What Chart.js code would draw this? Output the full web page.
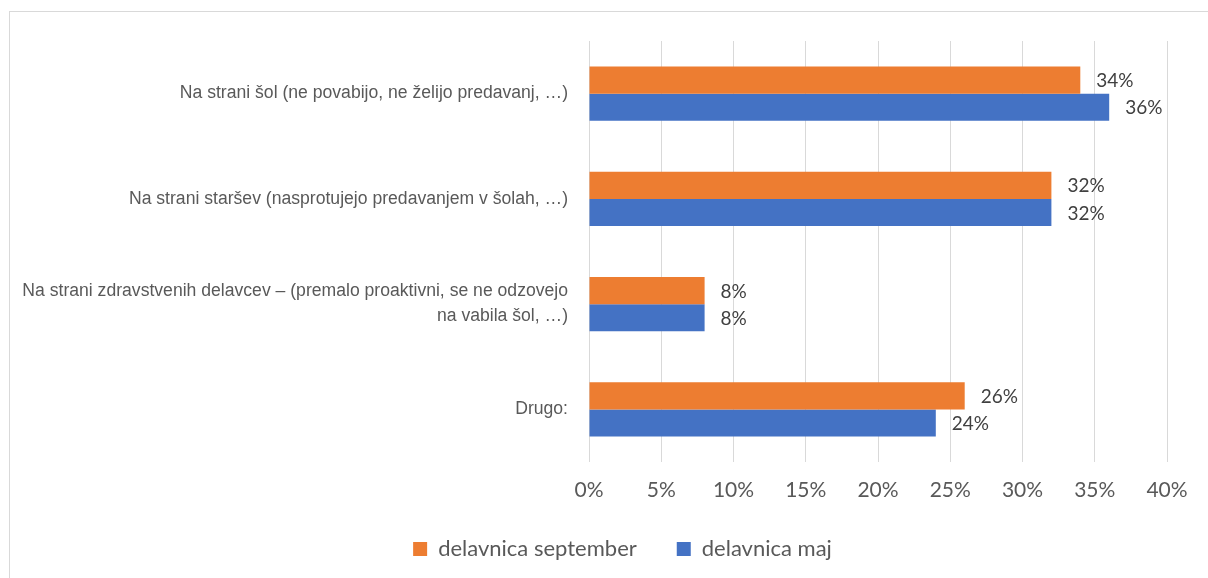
<!DOCTYPE html>
<html>
<head>
<meta charset="utf-8">
<script src="https://cdn.jsdelivr.net/npm/chart.js@4/dist/chart.umd.min.js"></script>
<style>
  html, body { margin: 0; padding: 0; background: #fff; overflow: hidden; }
  #wrap { position: relative; width: 1208px; height: 578px; }
  #frame { position: absolute; left: 9px; top: 11px; width: 1230px; height: 600px; border: 1px solid #d9d9d9; }
  #chart { position: absolute; left: 0; top: 0; }
</style>
</head>
<body>
<div id="wrap">
  <div id="frame"></div>
  <canvas id="chart" width="1208" height="578"></canvas>
</div>
<script>
// Kategorije in vrednosti (v %)
const categories = [
  'Na strani šol (ne povabijo, ne želijo predavanj, …)',
  'Na strani staršev (nasprotujejo predavanjem v šolah, …)',
  ['Na strani zdravstvenih delavcev – (premalo proaktivni, se ne odzovejo', 'na vabila šol, …)'],
  'Drugo:'
];
const september = [34, 32, 8, 26];
const maj = [36, 32, 8, 24];
const seriesNames = ['delavnica september', 'delavnica maj'];
const xTicks = [0, 5, 10, 15, 20, 25, 30, 35, 40];

const grey = '#595959';

// Oznake vrednosti desno od stolpcev
const valueLabels = {
  id: 'valueLabels',
  afterDatasetsDraw(chart) {
    const ctx = chart.ctx;
    ctx.save();
    ctx.font = '19px Lato';
    ctx.fillStyle = '#404040';
    ctx.textAlign = 'left';
    ctx.textBaseline = 'middle';
    chart.data.datasets.forEach((ds, i) => {
      chart.getDatasetMeta(i).data.forEach((el, j) => {
        ctx.fillText(ds.data[j] + '%', el.x + 16, el.y + 1);
      });
    });
    ctx.restore();
  }
};

// Legenda je v izvirniku malo desno od sredine in nekoliko višje
const shiftLegend = {
  id: 'shiftLegend',
  afterLayout(chart) {
    const lg = chart.legend;
    if (!lg) return;
    lg.left += 78;
    lg.top -= 8;
    lg.bottom -= 8;
  }
};

new Chart(document.getElementById('chart'), {
  type: 'bar',
  data: {
    labels: categories,
    datasets: [
      { label: seriesNames[0], data: september, backgroundColor: '#ED7D31' },
      { label: seriesNames[1], data: maj, backgroundColor: '#4472C4' }
    ]
  },
  options: {
    indexAxis: 'y',
    responsive: false,
    animation: false,
    categoryPercentage: 0.515,
    barPercentage: 1,
    layout: { padding: { left: 0, right: 41, top: 41, bottom: 0 } },
    plugins: {
      tooltip: { enabled: false },
      legend: {
        position: 'bottom',
        labels: {
          boxWidth: 14,
          boxHeight: 14,
          padding: 40,
          color: grey,
          font: { family: 'Lato', size: 22 }
        }
      }
    },
    scales: {
      x: {
        min: 0,
        max: 40,
        afterBuildTicks: s => { s.ticks = xTicks.map(v => ({ value: v })); },
        grid: { color: '#d9d9d9', drawTicks: false },
        border: { display: false },
        ticks: {
          padding: 16,
          color: grey,
          font: { family: 'Lato', size: 21 },
          callback: v => v + '%'
        },
        afterFit: s => { s.height = 44; }
      },
      y: {
        grid: { display: false, drawTicks: false },
        border: { display: false },
        ticks: {
          padding: 21,
          color: grey,
          font: { family: 'Liberation Sans', size: 17.6, lineHeight: 1.42 }
        },
        afterFit: s => { s.width = 589; }
      }
    }
  },
  plugins: [valueLabels, shiftLegend]
});
</script>
</body>
</html>
